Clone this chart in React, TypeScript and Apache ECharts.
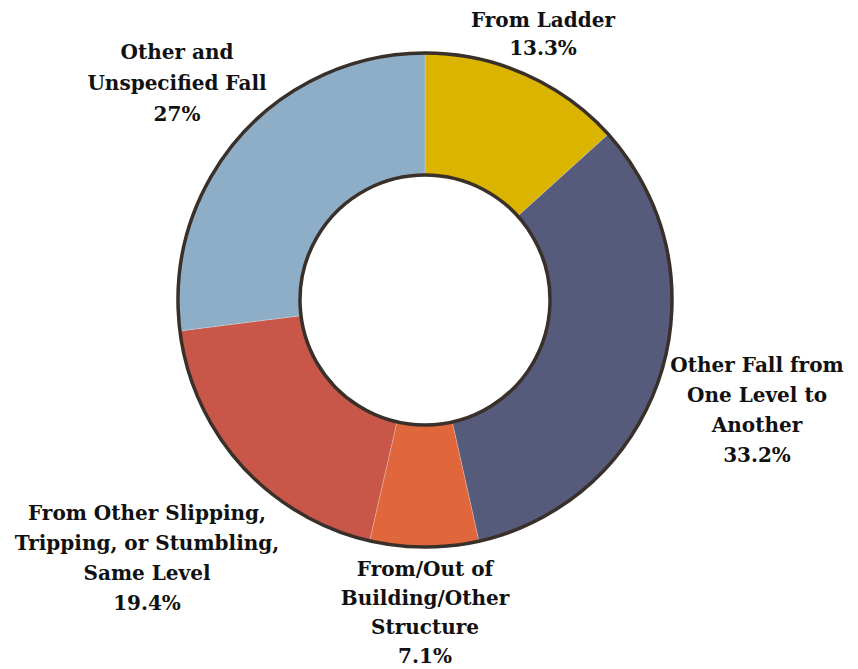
import React, { useEffect, useRef } from "react";
import * as echarts from "echarts";

const categories = [
  "From Ladder",
  "Other Fall from\nOne Level to\nAnother",
  "From/Out of\nBuilding/Other\nStructure",
  "From Other Slipping,\nTripping, or Stumbling,\nSame Level",
  "Other and\nUnspecified Fall",
];
const values = [13.3, 33.2, 7.1, 19.4, 27];
const valueLabels = ["13.3%", "33.2%", "7.1%", "19.4%", "27%"];
const colors = ["#dbb400", "#565a7b", "#e0673b", "#c8574a", "#8eadc6"];
const labelPos = [
  [543, 34],
  [757, 410],
  [425, 612],
  [147, 558],
  [177, 83],
];
const lineHeights = [28, 30, 29, 30, 31];

export default function App() {
  const ref = useRef<HTMLDivElement>(null);
  useEffect(() => {
    document.body.style.margin = "0";
    const chart = echarts.init(ref.current!, undefined, { renderer: "svg" });
    chart.setOption({
      animation: false,
      backgroundColor: "#ffffff",
      series: [
        {
          type: "pie",
          center: [425, 300],
          radius: [125, 247],
          startAngle: 90,
          clockwise: true,
          avoidLabelOverlap: false,
          itemStyle: { borderColor: "rgba(255,255,255,0.35)", borderWidth: 0.6 },
          label: {
            show: true,
            position: "outside",
            formatter: (p: any) => p.name + "\n" + valueLabels[p.dataIndex],
            fontFamily: "DejaVu Serif",
            fontWeight: "bold",
            fontSize: 20,
            lineHeight: 30,
            color: "#111111",
            align: "center",
          },
          labelLine: { show: false },
          labelLayout: (params: any) => ({
            x: labelPos[params.dataIndex][0],
            y: labelPos[params.dataIndex][1],
            align: "center",
            verticalAlign: "middle",
          }),
          data: categories.map((c, i) => ({
            name: c,
            value: values[i],
            itemStyle: { color: colors[i] },
            label: { lineHeight: lineHeights[i] },
          })),
        },
        {
          type: "pie",
          center: [425, 300],
          radius: [125, 247],
          silent: true,
          label: { show: false },
          labelLine: { show: false },
          itemStyle: { color: "none", borderColor: "#3a302a", borderWidth: 3.5 },
          data: [{ value: 1, name: "border" }],
        },
      ],
    });
    return () => chart.dispose();
  }, []);
  return <div ref={ref} style={{ width: 858, height: 669 }} />;
}
